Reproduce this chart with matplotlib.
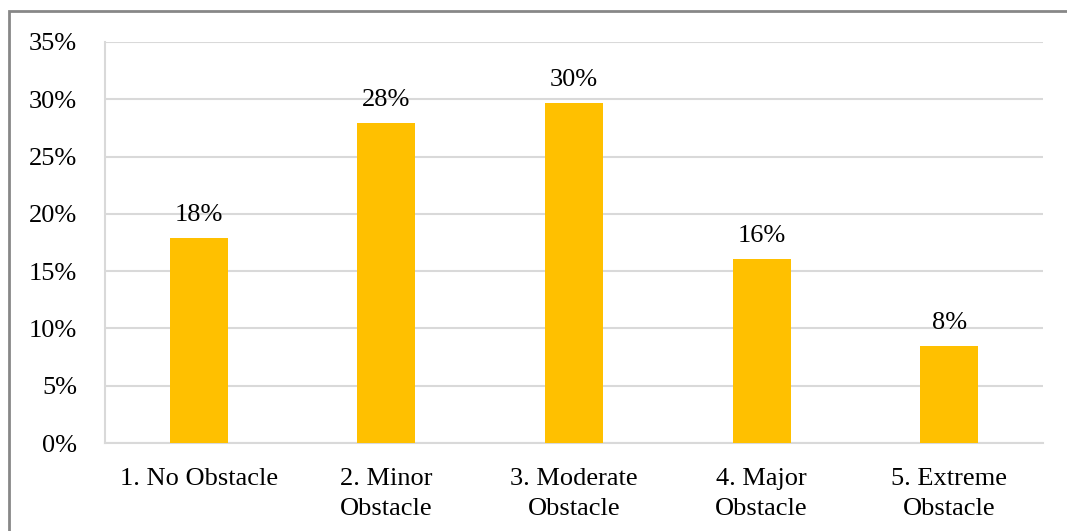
import matplotlib
matplotlib.use("Agg")
import matplotlib.pyplot as plt
from matplotlib.patches import Rectangle
from matplotlib.ticker import FuncFormatter, MultipleLocator

categories = ["1. No Obstacle", "2. Minor\nObstacle", "3. Moderate\nObstacle",
              "4. Major\nObstacle", "5. Extreme\nObstacle"]
shares = [17.9, 27.9, 29.7, 16.1, 8.5]  # percent of respondents

plt.rcParams["font.family"] = ["Liberation Serif", "DejaVu Serif"]

W, H = 1067, 531
fig = plt.figure(figsize=(W / 100, H / 100), dpi=100)
ax = fig.add_axes([105 / W, 1 - 443 / H, (1043 - 105) / W, (443 - 42) / H])

x = range(len(categories))
bars = ax.bar(x, shares, width=0.31, color="#FFC000", zorder=3)

for xi, v in zip(x, shares):
    ax.annotate(f"{v:.0f}%", (xi, v), xytext=(0, 16.5), textcoords="offset points",
                ha="center", va="center", fontsize=19)

ax.set_xlim(-0.5, len(categories) - 0.5)
ax.set_ylim(0, 35)
ax.yaxis.set_major_locator(MultipleLocator(5))
ax.yaxis.set_major_formatter(FuncFormatter(lambda v, _: f"{v:.0f}%"))
ax.set_xticks(list(x))
ax.set_xticklabels(categories, fontsize=19, linespacing=1.45)
ax.tick_params(axis="y", labelsize=19, length=0, pad=20)
ax.tick_params(axis="x", length=0, pad=18)

ax.grid(axis="y", color="#D9D9D9", linewidth=1.5, zorder=0)
for side in ("top", "right"):
    ax.spines[side].set_visible(False)
for side in ("left", "bottom"):
    ax.spines[side].set_color("#D9D9D9")
    ax.spines[side].set_linewidth(1.5)

# outer frame of the chart area
fig.patches.append(Rectangle((9 / W, -0.05), 1.1, 1 - 11 / H + 0.05,
                             transform=fig.transFigure, fill=False,
                             edgecolor="#878787", linewidth=2))

fig.savefig("out.png", dpi=100)
